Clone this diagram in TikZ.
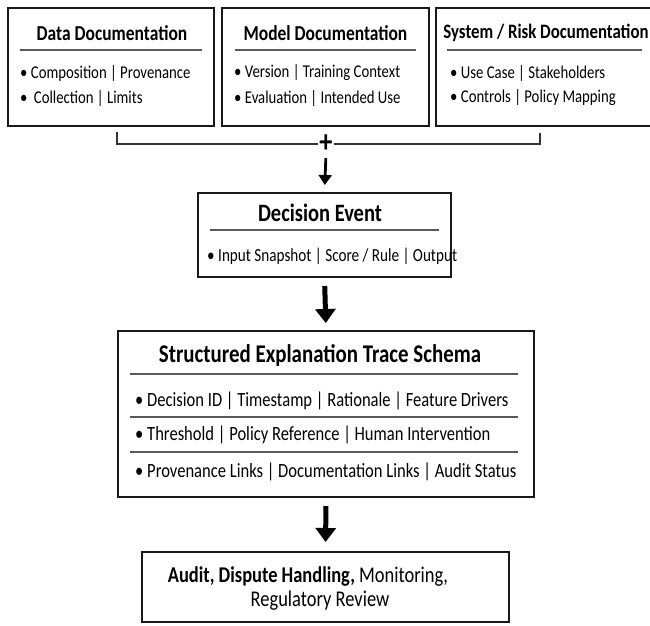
\documentclass[tikz,border=0pt]{standalone}
\usepackage{fontspec}
\setmainfont{Carlito}[FakeStretch=0.82]
\usetikzlibrary{arrows.meta}

\begin{document}
\begin{tikzpicture}[
	x=1pt, y=-1pt,
	docbox/.style={rectangle, draw=black!90, line width=2pt, inner sep=0pt},
	boxtitle/.style={font=\fontsize{21.3}{24}\selectfont\bfseries, inner sep=0pt},
	boxitem/.style={font=\fontsize{18}{21}\selectfont, inner sep=0pt, anchor=west},
	rowitem/.style={font=\fontsize{20.2}{23}\selectfont, inner sep=0pt, anchor=west},
	rule/.style={draw=black!65, line width=1.3pt},
	bracket/.style={draw=black!80, line width=1.8pt},
	thinflow/.style={-{Triangle[length=10pt,width=13pt]}, line width=2.8pt},
	flow/.style={-{Triangle[length=14pt,width=20pt]}, line width=5pt},
	]
	\useasboundingbox (0,0) rectangle (650,625);
	
	% documentation boxes
	\node[docbox, minimum width=206pt, minimum height=118pt] at (111, 67) (datadoc) {};
	\node[docbox, minimum width=207pt, minimum height=118pt] at (325.5, 67) (modeldoc) {};
	\node[docbox, minimum width=220pt, minimum height=118pt] at (546, 67) (systemdoc) {};
	
	\node[boxtitle] at (112, 33) (datatitle) {Data Documentation};
	\node[boxtitle] at (325.5, 33) (modeltitle) {Model Documentation};
	\node[boxtitle, font=\fontsize{20.5}{24}\selectfont\bfseries] at (546, 33) (systemtitle) {System / Risk Documentation};
	\draw[rule] (20, 50) -- (202, 50);
	\draw[rule] (235, 50) -- (416, 50);
	\draw[rule] (447, 50) -- (642, 50);
	
	\node[boxitem] at (20, 73) (data1) {\textbullet\ Composition | Provenance};
	\node[boxitem] at (20, 98) (data2) {\textbullet\ \,Collection | Limits};
	\node[boxitem] at (234, 73) (model1) {\textbullet\ Version | Training Context};
	\node[boxitem] at (234, 98) (model2) {\textbullet\ Evaluation | Intended Use};
	\node[boxitem] at (450, 73) (system1) {\textbullet\ Use Case | Stakeholders};
	\node[boxitem] at (450, 98) (system2) {\textbullet\ Controls | Policy Mapping};
	
	% joining bracket
	\node[font=\fontsize{32}{32}\selectfont\bfseries, inner sep=1pt] at (326, 144) (plus) {+};
	\coordinate (leftend) at (117, 132);
	\coordinate (rightend) at (540, 133);
	\draw[bracket] (leftend) |- (plus.west);
	\draw[bracket] (plus.east) -| (rightend);
	
	% decision event
	\node[docbox, minimum width=253pt, minimum height=84pt] at (324.5, 235) (decision) {};
	\node[boxtitle, font=\fontsize{25}{28}\selectfont\bfseries] at (320, 213) (decisiontitle) {Decision Event};
	\draw[rule] (210, 230) -- (439, 230);
	\node[boxitem, font=\fontsize{18.5}{21}\selectfont] at (207, 256) (decision1) {\textbullet\ Input Snapshot | Score / Rule | Output};
	
	% trace schema
	\node[docbox, minimum width=416pt, minimum height=166pt] at (326, 414) (schema) {};
	\node[font=\fontsize{25.5}{28}\selectfont\bfseries, inner sep=0pt] at (320, 356) (schematitle) {Structured Explanation Trace Schema};
	\draw[rule] (130, 374) -- (518, 374);
	\node[rowitem] at (135, 401) (row1) {\textbullet\ Decision ID | Timestamp | Rationale | Feature Drivers};
	\draw[rule] (130, 417) -- (518, 417);
	\node[rowitem] at (135, 435) (row2) {\textbullet\ Threshold | Policy Reference | Human Intervention};
	\draw[rule] (130, 452) -- (518, 452);
	\node[rowitem] at (135, 472) (row3) {\textbullet\ Provenance Links | Documentation Links | Audit Status};
	
	% audit use
	\node[docbox, minimum width=367pt, minimum height=70pt] at (325.5, 587) (audit) {};
	\node[font=\fontsize{22.5}{24}\selectfont, align=center, inner sep=0pt] at (308, 589) (audittext) {\textbf{Audit, Dispute Handling,} Monitoring,\\ \hspace*{24pt}Regulatory Review};
	
	\draw[thinflow, shorten <=4pt, shorten >=7pt] (plus.south) -- (decision.north);
	\draw[flow, shorten <=8pt, shorten >=7pt] (decision.south) -- (schema.north);
	\draw[flow, shorten <=8pt, shorten >=9pt] (schema.south) -- (audit.north);
\end{tikzpicture}
\end{document}
